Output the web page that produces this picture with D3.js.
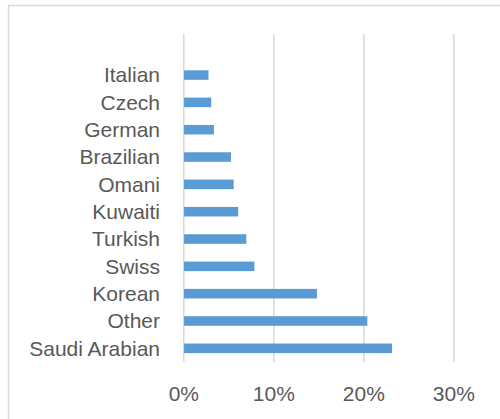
<!DOCTYPE html>
<html>
<head>
<meta charset="utf-8">
<script src="https://cdn.jsdelivr.net/npm/d3@7"></script>
<style>
    body { margin: 0; background: #fff; }
    svg { display: block; }
</style>
</head>
<body>
<svg id="drawing_region"></svg>
<script>
// categories top -> bottom, values in percent
const categories = ['Italian', 'Czech', 'German', 'Brazilian', 'Omani', 'Kuwaiti',
    'Turkish', 'Swiss', 'Korean', 'Other', 'Saudi Arabian'];
const values = [2.8, 3.1, 3.4, 5.3, 5.6, 6.1, 7.0, 7.9, 14.85, 20.45, 23.2];
const xTicks = [0, 10, 20, 30];

const config = {
    parent: '#drawing_region',
    width: 500,
    height: 419,
    plot: { left: 183.3, right: 453.3, top: 34, bottom: 362, bandTop: 61.4 },
    font: '"Liberation Sans", Arial, sans-serif',
};

const data = categories.map((c, i) => ({ label: c, value: values[i] }));

const svg = d3.select(config.parent)
    .attr('width', config.width)
    .attr('height', config.height);

// chart frame (runs past the bottom/right edge of the picture)
svg.append('rect')
    .attr('x', 8.5)
    .attr('y', 5.5)
    .attr('width', 600)
    .attr('height', 600)
    .attr('fill', 'none')
    .attr('stroke', '#d9d9d9')
    .attr('stroke-width', 1.5);

const xscale = d3.scaleLinear()
    .domain([0, 30])
    .range([config.plot.left, config.plot.right]);

const yscale = d3.scaleBand()
    .domain(categories)
    .range([config.plot.bandTop, config.plot.bottom])
    .paddingInner(0.65)
    .paddingOuter(0.325);

// gridlines + tick labels
const xaxis = d3.axisBottom(xscale)
    .tickValues(xTicks)
    .tickFormat(d => d + '%')
    .tickSize(-(config.plot.bottom - config.plot.top))
    .tickPadding(24);

const gx = svg.append('g')
    .attr('transform', `translate(0, ${config.plot.bottom})`)
    .call(xaxis);

gx.select('.domain').remove();
gx.selectAll('.tick line')
    .attr('stroke', '#d9d9d9')
    .attr('stroke-width', 1.5);
gx.selectAll('.tick text')
    .attr('fill', '#595959')
    .attr('font-family', config.font)
    .attr('font-size', 21);

// bars
svg.append('g')
    .selectAll('rect')
    .data(data)
    .enter()
    .append('rect')
    .attr('x', xscale(0) + 0.75)
    .attr('y', d => yscale(d.label))
    .attr('width', d => xscale(d.value) - xscale(0) - 0.75)
    .attr('height', yscale.bandwidth())
    .attr('fill', '#5b9bd5');

// category labels
svg.append('g')
    .selectAll('text')
    .data(data)
    .enter()
    .append('text')
    .attr('x', 160)
    .attr('y', d => yscale(d.label) + yscale.bandwidth() / 2)
    .attr('dy', '0.35em')
    .attr('text-anchor', 'end')
    .attr('fill', '#595959')
    .attr('font-family', config.font)
    .attr('font-size', 21)
    .text(d => d.label);
</script>
</body>
</html>
